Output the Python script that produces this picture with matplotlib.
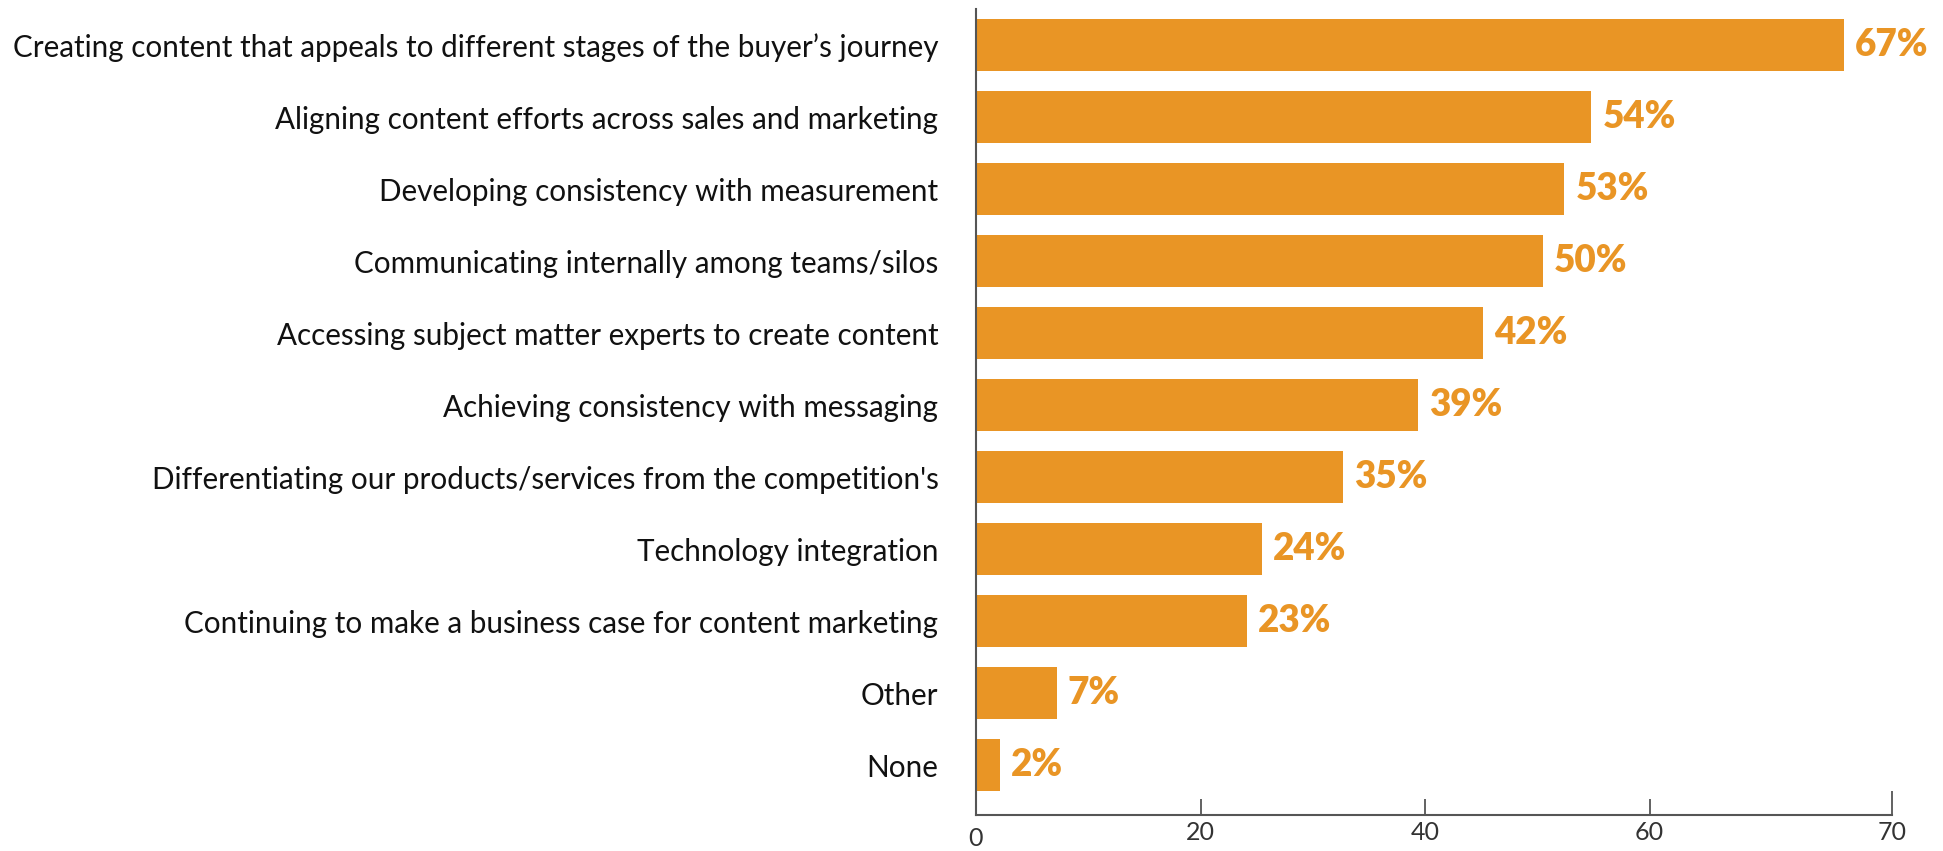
import matplotlib.pyplot as plt
from matplotlib.transforms import ScaledTranslation

categories = [
    "Creating content that appeals to different stages of the buyer\u2019s journey",
    "Aligning content efforts across sales and marketing",
    "Developing consistency with measurement",
    "Communicating internally among teams/silos",
    "Accessing subject matter experts to create content",
    "Achieving consistency with messaging",
    "Differentiating our products/services from the competition's",
    "Technology integration",
    "Continuing to make a business case for content marketing",
    "Other",
    "None",
]
# printed percentages
pct = [67, 54, 53, 50, 42, 39, 35, 24, 23, 7, 2]
# bar lengths as drawn, read against the 20/40/60 ticks
bar_len = [77.3, 54.8, 52.4, 50.5, 45.2, 39.4, 32.7, 25.5, 24.1, 7.2, 2.1]
tick_vals = [0, 20, 40, 60]
axis_end = 81.6
axis_end_label = "70"

orange = "#E99525"
axis_grey = "#555555"

plt.rcParams['font.family'] = ['Lato', 'DejaVu Sans']

fig = plt.figure(figsize=(19.43, 8.51), dpi=100)
ax = fig.add_axes([0.5023, 0.0423, 0.9738 - 0.5023, 0.9894 - 0.0423])

y = list(range(len(categories)))
ax.barh(y, bar_len, height=0.715, color=orange, zorder=2)

for yi, v, p in zip(y, bar_len, pct):
    ax.annotate(f"{p}%", (v, yi), xytext=(8, 0), textcoords="offset points",
                va="center", ha="left", fontsize=26.5, fontweight="heavy",
                color=orange)

ax.set_xlim(0, axis_end)
ax.set_ylim(10.694, -0.5)

ax.set_yticks(y)
ax.set_yticklabels(categories, fontsize=21.3, color="#111111")
ax.tick_params(axis="y", length=0, pad=27)

ax.set_xticks(tick_vals)
ax.set_xticklabels([str(t) for t in tick_vals])
ax.set_xticks([axis_end], minor=True)
ax.set_xticklabels([axis_end_label], minor=True)
ax.tick_params(axis="x", which="major", direction="in", length=11.5, width=1.3,
               color=axis_grey, pad=4, labelsize=18, labelcolor="#333333")
ax.tick_params(axis="x", which="minor", direction="in", length=17, width=1.3,
               color=axis_grey, pad=4, labelsize=18, labelcolor="#333333")
# the "0" sits a little lower than the others
zero = ax.get_xticklabels()[0]
zero.set_transform(zero.get_transform() + ScaledTranslation(0, -0.06, fig.dpi_scale_trans))

for s in ["top", "right"]:
    ax.spines[s].set_visible(False)
for s in ["left", "bottom"]:
    ax.spines[s].set_color(axis_grey)
    ax.spines[s].set_linewidth(1.5)

fig.savefig("out.png", dpi=100)
